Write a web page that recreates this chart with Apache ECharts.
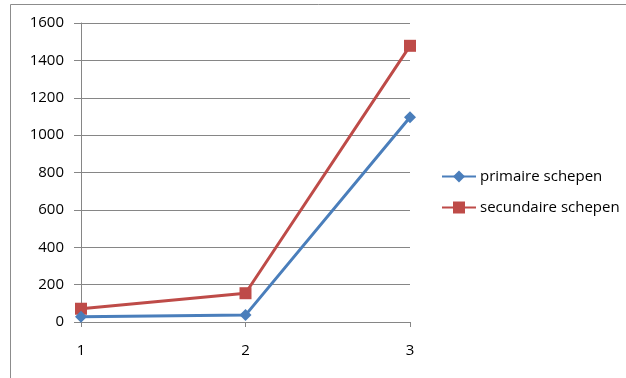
<!DOCTYPE html>
<html>
<head>
<meta charset="utf-8">
<script src="https://cdn.jsdelivr.net/npm/echarts@6/dist/echarts.min.js"></script>
<style>
  html, body { margin: 0; padding: 0; background: #fff; }
  #chart { width: 626px; height: 378px; }
</style>
</head>
<body>
<div id="chart"></div>
<script>
// Categories on the x axis
const categories = ['1', '2', '3'];
// Series values
const primaireSchepen = [28, 37, 1096];
const secundaireSchepen = [71, 154, 1478];
// Y axis range
const yMin = 0;
const yMax = 1600;
const yStep = 200;

const labelFont = { fontFamily: 'Open Sans', fontSize: 15, color: '#000' };
const gray = '#868686';

const chart = echarts.init(document.getElementById('chart'), null, { renderer: 'canvas' });
chart.setOption({
  animation: false,
  backgroundColor: '#fff',
  graphic: [{
    type: 'rect',
    shape: { x: 10.5, y: 4.5, width: 700, height: 500 },
    style: { fill: 'none', stroke: '#8c8c8c', lineWidth: 1 },
    silent: true
  }],
  grid: { left: 81, right: 216, top: 23, bottom: 56 },
  legend: {
    orient: 'vertical',
    left: 441,
    top: 169,
    padding: 0,
    itemWidth: 34,
    itemHeight: 15,
    itemGap: 16,
    textStyle: { fontFamily: 'Open Sans', fontSize: 15, color: '#000', padding: [0, 0, 0, -1] },
    data: ['primaire schepen', 'secundaire schepen']
  },
  xAxis: {
    type: 'category',
    data: categories,
    boundaryGap: false,
    axisLine: { lineStyle: { color: gray, width: 1 } },
    axisTick: { show: true, length: 5, lineStyle: { color: gray } },
    axisLabel: Object.assign({ margin: 21 }, labelFont),
    splitLine: { show: false }
  },
  yAxis: {
    type: 'value',
    min: yMin,
    max: yMax,
    interval: yStep,
    axisLine: { show: true, lineStyle: { color: gray, width: 1 } },
    axisTick: { show: true, length: 7, lineStyle: { color: gray } },
    axisLabel: Object.assign({ margin: 17, formatter: (v) => String(v) }, labelFont),
    splitLine: { show: true, lineStyle: { color: gray, width: 1 } }
  },
  series: [
    {
      name: 'primaire schepen',
      type: 'line',
      data: primaireSchepen,
      symbol: 'diamond',
      symbolSize: 12,
      lineStyle: { color: '#4a7ebb', width: 3 },
      itemStyle: { color: '#4a7ebb' },
      z: 3
    },
    {
      name: 'secundaire schepen',
      type: 'line',
      data: secundaireSchepen,
      symbol: 'rect',
      symbolSize: 12,
      lineStyle: { color: '#be4b48', width: 3 },
      itemStyle: { color: '#be4b48' },
      z: 2
    }
  ]
});
</script>
</body>
</html>
